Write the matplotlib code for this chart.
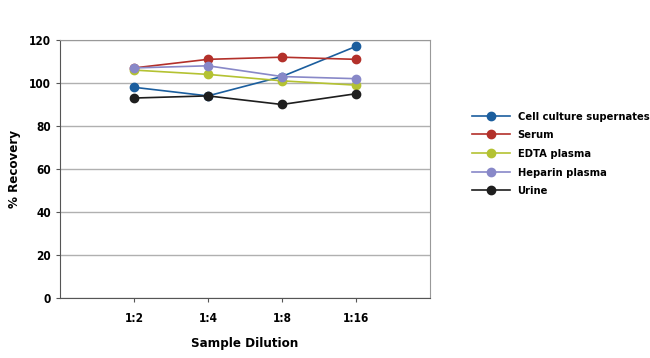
import matplotlib.pyplot as plt

dilutions = ["1:2", "1:4", "1:8", "1:16"]
cell_culture = [98, 94, 103, 117]
serum = [107, 111, 112, 111]
edta = [106, 104, 101, 99]
heparin = [107, 108, 103, 102]
urine = [93, 94, 90, 95]

series = [
    ("Cell culture supernates", cell_culture, "#1b5e9e"),
    ("Serum", serum, "#b3302a"),
    ("EDTA plasma", edta, "#b4c232"),
    ("Heparin plasma", heparin, "#8888c8"),
    ("Urine", urine, "#1e1e1e"),
]

plt.rcParams["font.family"] = ["DejaVu Sans"]
plt.rcParams["font.stretch"] = "condensed"
plt.rcParams["font.weight"] = "bold"

fig = plt.figure(figsize=(6.5, 3.58), dpi=100)
ax = fig.add_axes([0.0923, 0.1676, 0.569, 0.7207])

x = range(1, len(dilutions) + 1)
for name, vals, col in series:
    ax.plot(x, vals, color=col, lw=1.2, marker="o", ms=6, label=name)

ax.set_xlim(0, 5)
ax.set_ylim(0, 120)
ax.set_yticks(range(0, 121, 20))
ax.set_xticks(list(x))
ax.set_xticklabels(dilutions)
ax.grid(axis="y", color="#b0b0b0", lw=1)
ax.set_axisbelow(True)
for s in ["top", "right"]:
    ax.spines[s].set_color("#999999")
for s in ["left", "bottom"]:
    ax.spines[s].set_color("#555555")
ax.tick_params(axis="both", labelsize=8.5, color="#555555", length=3)
ax.tick_params(axis="x", pad=7)
ax.set_xlabel("Sample Dilution", fontsize=9.5, fontweight="bold", labelpad=9)
ax.set_ylabel("% Recovery", fontsize=9.5, fontweight="bold", labelpad=6)

ax.legend(loc="upper left", bbox_to_anchor=(1.114, 0.722), frameon=False,
          fontsize=8, handlelength=3.4, labelspacing=0.78, borderaxespad=0,
          handletextpad=0.7, borderpad=0)

fig.savefig("out.png", dpi=100)
